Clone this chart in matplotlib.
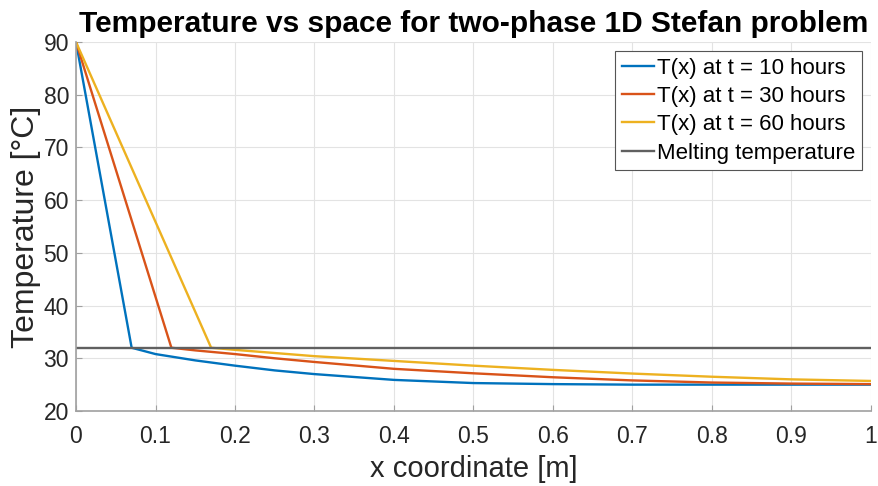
import matplotlib.pyplot as plt

plt.rcParams["font.family"] = ["Liberation Sans", "DejaVu Sans"]

# x positions (m) and temperatures (degC)
x_10h = [0.0, 0.07, 0.10, 0.15, 0.20, 0.25, 0.30, 0.40, 0.50, 0.60, 0.70, 0.80, 0.90, 1.0]
t_10h = [90.0, 32.0, 30.8, 29.6, 28.6, 27.7, 27.0, 25.9, 25.3, 25.1, 25.0, 25.0, 25.0, 25.0]

x_30h = [0.0, 0.12, 0.15, 0.20, 0.25, 0.30, 0.40, 0.50, 0.60, 0.70, 0.80, 0.90, 1.0]
t_30h = [90.0, 32.0, 31.5, 30.8, 30.0, 29.3, 28.0, 27.15, 26.4, 25.8, 25.4, 25.2, 25.1]

x_60h = [0.0, 0.17, 0.20, 0.25, 0.30, 0.40, 0.50, 0.60, 0.70, 0.80, 0.90, 1.0]
t_60h = [90.0, 32.0, 31.6, 31.0, 30.4, 29.5, 28.6, 27.8, 27.1, 26.5, 26.0, 25.7]

melting_temp = 32.0

labels = ["T(x) at t = 10 hours", "T(x) at t = 30 hours", "T(x) at t = 60 hours",
          "Melting temperature"]
colors = ["#0072BD", "#D95319", "#EDB120", "#606060"]

fig = plt.figure(figsize=(8.79, 4.86), dpi=100)
ax = fig.add_axes([76 / 879, 1 - 411 / 486, 795 / 879, 369 / 486])

ax.plot(x_10h, t_10h, color=colors[0], lw=1.7, label=labels[0])
ax.plot(x_30h, t_30h, color=colors[1], lw=1.7, label=labels[1])
ax.plot(x_60h, t_60h, color=colors[2], lw=1.7, label=labels[2])
ax.axhline(melting_temp, color=colors[3], lw=1.7, label=labels[3])

ax.set_xlim(0, 1)
ax.set_ylim(20, 90)
ax.set_xticks([i / 10 for i in range(11)])
ax.set_xticklabels(["0", "0.1", "0.2", "0.3", "0.4", "0.5", "0.6", "0.7", "0.8", "0.9", "1"])
ax.set_yticks(range(20, 91, 10))

ax.grid(True, color="#e3e3e3", lw=0.8)
ax.set_axisbelow(True)
for side in ["top", "right"]:
    ax.spines[side].set_visible(False)
for side in ["left", "bottom"]:
    ax.spines[side].set_color("#a0a0a0")
    ax.spines[side].set_linewidth(1.2)
ax.tick_params(direction="in", length=4, color="#a0a0a0", labelsize=16.5,
               labelcolor="#262626")
ax.tick_params(axis="x", pad=10)
ax.tick_params(axis="y", pad=5)

ax.set_xlabel("x coordinate [m]", fontsize=21, color="#262626", labelpad=5)
ax.set_ylabel("Temperature [°C]", fontsize=23, color="#262626", labelpad=2)
ax.set_title("Temperature vs space for two-phase 1D Stefan problem",
             fontsize=21.5, fontweight="bold", pad=7)

leg = ax.legend(loc="upper right", fontsize=16, fancybox=False, framealpha=1,
                edgecolor="#555555", handlelength=1.45, handletextpad=0.15,
                borderaxespad=0.4, labelspacing=0.33, borderpad=0.3)
leg.get_frame().set_linewidth(0.8)

fig.savefig("out.png", dpi=100)
